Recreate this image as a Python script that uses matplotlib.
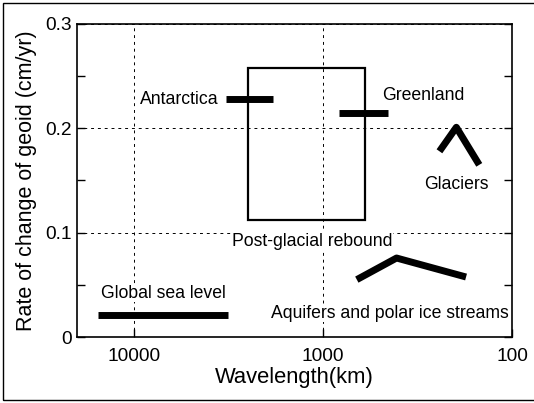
import matplotlib
matplotlib.use("Agg")
import matplotlib.pyplot as plt
from matplotlib.patches import Rectangle

plt.rcParams['font.family'] = ['Liberation Sans', 'DejaVu Sans']

# Data (wavelength km, rate cm/yr)
pgr_x = [2500, 600]          # post-glacial rebound box
pgr_y = [0.112, 0.258]
antarctica_x = [3240, 1830]
antarctica_y = [0.228, 0.228]
greenland_x = [824, 455]
greenland_y = [0.215, 0.215]
glaciers_x = [242, 197, 149]
glaciers_y = [0.178, 0.201, 0.165]
aquifers_x = [662, 408, 175]
aquifers_y = [0.055, 0.0757, 0.0575]
sealevel_x = [15500, 3160]
sealevel_y = [0.021, 0.021]

labels = ["Antarctica", "Greenland", "Glaciers", "Post-glacial rebound",
          "Aquifers and polar ice streams", "Global sea level"]
label_x = [3570, 295, 197, 1140, 444, 6950]
label_y = [0.228, 0.231, 0.146, 0.092, 0.023, 0.042]
label_ha = ["right", "center", "center", "center", "center", "center"]

xticks = [10000, 1000, 100]
xticklabels = ["10000", "1000", "100"]
yticks = [0, 0.1, 0.2, 0.3]
yticklabels = ["0", "0.1", "0.2", "0.3"]

fig = plt.figure(figsize=(5.34, 4.03), dpi=100)
ax = fig.add_axes([77/534, 1-337/403, (512-77)/534, (337-24)/403])

fig.patches.append(Rectangle((3/534, 3/403), 540/534, 397/403, transform=fig.transFigure,
                             fill=False, edgecolor='black', linewidth=1.0))

ax.set_xscale('log')
ax.set_xlim(20000, 100)
ax.set_ylim(0, 0.3)

lw = 5
ax.add_patch(Rectangle((pgr_x[0], pgr_y[0]), pgr_x[1]-pgr_x[0], pgr_y[1]-pgr_y[0],
                       fill=False, edgecolor='black', linewidth=1.6, zorder=3))
ax.plot(antarctica_x, antarctica_y, color='black', lw=lw, solid_capstyle='butt', zorder=4)
ax.plot(greenland_x, greenland_y, color='black', lw=lw, solid_capstyle='butt', zorder=4)
ax.plot(glaciers_x, glaciers_y, color='black', lw=lw, solid_capstyle='butt', zorder=4)
ax.plot(aquifers_x, aquifers_y, color='black', lw=lw, solid_capstyle='butt', zorder=4)
ax.plot(sealevel_x, sealevel_y, color='black', lw=lw, solid_capstyle='butt', zorder=4)

for t, x, y, ha in zip(labels, label_x, label_y, label_ha):
    ax.text(x, y, t, ha=ha, va='center', fontsize=12.7, zorder=5,
            bbox=dict(facecolor='white', edgecolor='none', pad=0.5) if t != "Antarctica" else None)

ax.set_xticks(xticks)
ax.set_xticklabels(xticklabels)
ax.xaxis.set_minor_locator(matplotlib.ticker.NullLocator())
ax.set_yticks(yticks)
ax.set_yticklabels(yticklabels)
ax.set_yticks([0.05, 0.15, 0.25], minor=True)
ax.tick_params(axis='both', which='major', direction='in', length=6, width=1, labelsize=13.8,
               right=True, top=False)
ax.tick_params(axis='y', which='minor', direction='in', length=6, width=1, right=True)
ax.tick_params(axis='x', pad=8)

ax.grid(True, which='major', linestyle=(0, (3, 4)), color='black', linewidth=0.7)

for s in ax.spines.values():
    s.set_linewidth(1.2)

ax.set_xlabel("Wavelength(km)", fontsize=15.8, labelpad=1)
ax.set_ylabel("Rate of change of geoid (cm/yr)", fontsize=15.5, labelpad=6)

fig.savefig("out.png", dpi=100)
